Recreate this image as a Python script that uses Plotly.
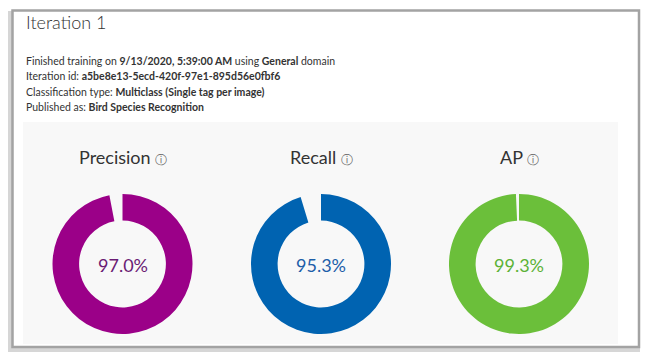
import plotly.graph_objects as go

# ---- data ----
metrics = ["Precision", "Recall", "AP"]
values = [97.0, 95.3, 99.3]
title_text = "Iteration 1"
info_labels = ["Finished training on ", "Iteration id: ", "Classification type: ", "Published as: "]
info_values = ["9/13/2020, 5:39:00 AM", "a5be8e13-5ecd-420f-97e1-895d56e0fbf6",
               "Multiclass (Single tag per image)", "Bird Species Recognition"]
info_suffix = [" using <b>General</b> domain", "", "", ""]

# ---- styles ----
W, H = 650, 358
ring_colors = ["#9b0088", "#0063b1", "#6bbf3a"]
text_colors = ["#6a1b74", "#1d5ea8", "#5cb236"]
centers_x = [122.5, 321.0, 519.0]
center_y = 264.0
radius = 70.0
FONT = "Lato"

def px(x):
    return x / W

def py(y):
    return 1 - y / H

fig = go.Figure()

for i, (m, v) in enumerate(zip(metrics, values)):
    cx = centers_x[i]
    fig.add_trace(go.Pie(
        values=[v, 100 - v],
        labels=[m, ""],
        sort=False,
        direction="clockwise",
        rotation=0,
        hole=0.62,
        marker=dict(colors=[ring_colors[i], "rgba(0,0,0,0)"], line=dict(width=0)),
        textinfo="none",
        hoverinfo="skip",
        showlegend=False,
        domain=dict(x=[px(cx - radius), px(cx + radius)],
                    y=[py(center_y + radius), py(center_y - radius)]),
    ))
    # center value
    fig.add_annotation(x=px(cx), y=py(center_y + 1), xref="paper", yref="paper",
                       text=f"{v:.1f}%", showarrow=False,
                       font=dict(family=FONT, size=18, color=text_colors[i]),
                       xanchor="center", yanchor="middle")
    # metric title with info icon
    fig.add_annotation(x=px(cx), y=py(157), xref="paper", yref="paper",
                       text=f"{m} <span style='font-size:12px;color:#666'>ⓘ</span>",
                       showarrow=False,
                       font=dict(family=FONT, size=18, color="#333333"),
                       xanchor="center", yanchor="middle")

# heading
fig.add_annotation(x=px(24), y=py(22), xref="paper", yref="paper", text=title_text,
                   showarrow=False, xanchor="left", yanchor="middle",
                   font=dict(family=FONT, size=18, color="#333333", weight=300))

line_y = [61, 76, 92, 107]
for lbl, val, suf, yy in zip(info_labels, info_values, info_suffix, line_y):
    fig.add_annotation(x=px(24), y=py(yy), xref="paper", yref="paper",
                       text=f"{lbl}<b>{val}</b>{suf}", showarrow=False,
                       xanchor="left", yanchor="middle",
                       font=dict(family=FONT, size=10.5, color="#333333"))

shapes = [
    # soft shadow
    dict(type="rect", xref="paper", yref="paper", x0=px(10), x1=px(638), y0=py(350), y1=py(13),
         line=dict(color="#d6d6d6", width=4), fillcolor="rgba(0,0,0,0)", layer="below"),
    # card border
    dict(type="rect", xref="paper", yref="paper", x0=px(12.5), x1=px(639), y0=py(347), y1=py(10.5),
         line=dict(color="#a3a3a3", width=2.5), fillcolor="#ffffff", layer="below"),
    # grey panel
    dict(type="rect", xref="paper", yref="paper", x0=px(23), x1=px(618), y0=py(344), y1=py(122),
         line=dict(width=0), fillcolor="#f8f8f8", layer="below"),
]

fig.update_layout(
    width=W, height=H,
    margin=dict(l=0, r=0, t=0, b=0),
    paper_bgcolor="#ffffff",
    plot_bgcolor="#ffffff",
    shapes=shapes,
    showlegend=False,
)

fig.write_html("out.html", config={"displayModeBar": False},
               post_script="document.body.style.margin='0';document.body.style.overflow='hidden';")
